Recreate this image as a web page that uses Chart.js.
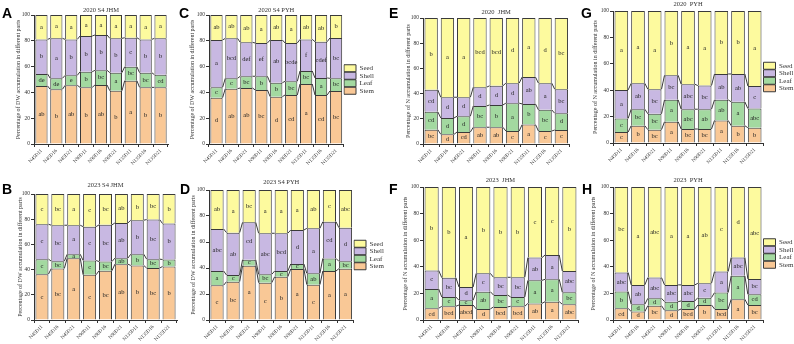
<!DOCTYPE html>
<html>
<head>
<meta charset="utf-8">
<script src="https://cdn.jsdelivr.net/npm/chart.js@4.4.1/dist/chart.umd.min.js"></script>
<style>
  html, body { margin: 0; padding: 0; background: #fff; }
  #fig { position: relative; width: 794px; height: 344px; overflow: hidden; }
  #fig canvas { position: absolute; }
  .tag { position: absolute; font: bold 14px "Liberation Sans", Arial, sans-serif; line-height: 1; color: #000; }
</style>
</head>
<body>
<div id="fig">
  <canvas id="cA" width="183" height="170" style="left:0px;top:0px"></canvas>
  <canvas id="cC" width="215" height="170" style="left:183px;top:0px"></canvas>
  <canvas id="cE" width="190" height="170" style="left:400px;top:0px"></canvas>
  <canvas id="cG" width="222" height="170" style="left:585px;top:0px"></canvas>
  <canvas id="cB" width="183" height="174" style="left:0px;top:170px"></canvas>
  <canvas id="cD" width="215" height="174" style="left:183px;top:170px"></canvas>
  <canvas id="cF" width="190" height="174" style="left:400px;top:170px"></canvas>
  <canvas id="cH" width="222" height="174" style="left:585px;top:170px"></canvas>
  <div class="tag" style="left:2px;top:6px">A</div>
  <div class="tag" style="left:179px;top:6px">C</div>
  <div class="tag" style="left:389px;top:6px">E</div>
  <div class="tag" style="left:581px;top:6px">G</div>
  <div class="tag" style="left:2px;top:182px">B</div>
  <div class="tag" style="left:180px;top:182px">D</div>
  <div class="tag" style="left:389px;top:182px">F</div>
  <div class="tag" style="left:582px;top:182px">H</div>
</div>
<script>
const categories = ["N45D11", "N45D16", "N45D21", "N90D11", "N90D16", "N90D21", "N135D11", "N135D16", "N135D21"];
const partNames = ["Stem", "Leaf", "Shell", "Seed"];
const partColors = ["#F9C896", "#A3D9A0", "#C8B8E2", "#FDFA9E"];

// A: 2020 S4 JHM (DW)
const A_stem  = [45.0, 42.4, 45.5, 43.9, 45.7, 41.3, 49.1, 43.9, 43.9];
const A_leaf  = [9.3, 8.5, 7.7, 12.1, 11.4, 14.0, 10.8, 11.4, 9.8];
const A_shell = [26.8, 31.0, 27.9, 27.7, 27.4, 26.6, 22.5, 25.8, 28.2];
const A_seed  = [18.9, 18.1, 18.9, 16.3, 15.5, 18.1, 17.6, 18.9, 18.1];
const A_stemSig  = ["ab", "b", "ab", "b", "ab", "b", "a", "b", "b"];
const A_leafSig  = ["de", "de", "e", "b", "bc", "a", "bc", "bc", "cd"];
const A_shellSig = ["b", "a", "b", "b", "b", "b", "c", "b", "b"];
const A_seedSig  = ["a", "a", "a", "a", "a", "a", "a", "a", "a"];

// C: 2020 S4 PYH (DW)
const C_stem  = [35.9, 42.9, 43.4, 41.9, 36.7, 38.0, 46.5, 38.0, 41.1];
const C_leaf  = [8.0, 8.0, 9.1, 10.6, 10.8, 10.6, 10.1, 13.2, 9.8];
const C_shell = [36.7, 31.0, 26.3, 25.8, 33.1, 29.7, 24.5, 28.1, 31.3];
const C_seed  = [19.4, 18.1, 21.2, 21.7, 19.4, 21.7, 18.9, 20.7, 17.8];
const C_stemSig  = ["d", "ab", "ab", "bc", "d", "cd", "a", "cd", "bc"];
const C_leafSig  = ["c", "c", "bc", "b", "b", "bc", "bc", "a", "bc"];
const C_shellSig = ["a", "bcd", "def", "ef", "ab", "bcde", "f", "cdef", "bc"];
const C_seedSig  = ["ab", "ab", "ab", "a", "ab", "a", "ab", "ab", "b"];

// B: 2023 S4 JHM (DW)
const B_stem  = [36.4, 40.9, 49.1, 35.9, 39.1, 44.3, 43.3, 41.2, 42.5];
const B_leaf  = [11.9, 5.8, 3.1, 11.3, 7.3, 4.8, 8.9, 7.1, 5.5];
const B_shell = [27.7, 28.5, 23.0, 26.9, 29.1, 27.9, 27.0, 31.4, 28.5];
const B_seed  = [24.0, 24.8, 24.8, 25.9, 24.5, 23.0, 20.8, 20.3, 23.5];
const B_stemSig  = ["c", "bc", "a", "c", "bc", "ab", "b", "bc", "b"];
const B_leafSig  = ["c", "bc", "a", "c", "bc", "ab", "b", "bc", "b"];
const B_shellSig = ["c", "bc", "a", "c", "bc", "ab", "b", "bc", "b"];
const B_seedSig  = ["c", "bc", "a", "c", "bc", "ab", "b", "bc", "b"];

// D: 2023 S4 PYH (DW)
const D_stem  = [26.7, 29.5, 41.8, 28.7, 33.3, 39.2, 27.2, 37.7, 39.5];
const D_leaf  = [11.0, 5.1, 4.6, 6.4, 4.4, 3.9, 8.7, 9.7, 5.6];
const D_shell = [32.3, 32.6, 28.7, 31.6, 29.0, 26.1, 34.6, 28.2, 25.9];
const D_seed  = [30.0, 32.8, 24.9, 33.3, 33.3, 30.8, 29.5, 24.4, 29.0];
const D_stemSig  = ["c", "bc", "a", "c", "b", "a", "c", "a", "a"];
const D_leafSig  = ["a", "c", "c", "bc", "c", "c", "ab", "a", "bc"];
const D_shellSig = ["abc", "ab", "cd", "abc", "bcd", "d", "a", "cd", "d"];
const D_seedSig  = ["ab", "a", "bc", "a", "a", "a", "ab", "c", "abc"];

// E: 2020 JHM (N)
const E_stem  = [11.4, 7.7, 9.5, 13.3, 13.3, 10.3, 15.4, 10.3, 11.1];
const E_leaf  = [14.1, 13.0, 12.5, 16.9, 17.7, 22.1, 16.4, 16.8, 13.3];
const E_shell = [17.5, 16.4, 15.1, 14.9, 15.2, 15.9, 21.3, 21.2, 19.1];
const E_seed  = [57.0, 62.9, 62.9, 54.9, 53.8, 51.7, 46.9, 51.7, 56.5];
const E_stemSig  = ["bc", "d", "cd", "ab", "ab", "c", "a", "c", "c"];
const E_leafSig  = ["cd", "d", "d", "bc", "b", "a", "b", "bc", "d"];
const E_shellSig = ["cd", "d", "d", "d", "d", "d", "ab", "a", "bc"];
const E_seedSig  = ["b", "a", "a", "bcd", "bcd", "d", "a", "d", "bc"];

// G: 2020 PYH (N)
const G_stem  = [8.3, 13.1, 10.1, 16.1, 10.6, 10.6, 17.1, 13.1, 11.6];
const G_leaf  = [10.3, 12.5, 12.0, 16.6, 15.0, 15.0, 15.6, 18.1, 14.5];
const G_shell = [21.6, 19.6, 18.6, 18.6, 18.9, 17.9, 19.6, 21.1, 17.1];
const G_seed  = [59.8, 54.8, 59.3, 48.7, 55.5, 56.5, 47.7, 47.7, 56.8];
const G_stemSig  = ["c", "b", "bc", "a", "bc", "bc", "a", "b", "b"];
const G_leafSig  = ["c", "bc", "bc", "a", "abc", "ab", "ab", "a", "abc"];
const G_shellSig = ["a", "ab", "bc", "bc", "abc", "bc", "ab", "ab", "c"];
const G_seedSig  = ["a", "a", "a", "b", "a", "a", "b", "b", "a"];

// F: 2023 JHM (N)
const F_stem  = [8.8, 10.3, 11.3, 8.3, 9.8, 10.3, 12.5, 13.8, 11.8];
const F_leaf  = [14.5, 7.0, 3.5, 13.0, 9.0, 7.0, 17.3, 16.8, 9.0];
const F_shell = [14.0, 14.5, 10.0, 13.8, 13.3, 14.8, 17.1, 18.3, 16.0];
const F_seed  = [62.7, 68.2, 75.2, 64.9, 67.9, 67.9, 53.1, 51.1, 63.2];
const F_stemSig  = ["cd", "bcd", "abcd", "d", "bcd", "bcd", "ab", "a", "abc"];
const F_leafSig  = ["a", "c", "c", "ab", "bc", "c", "a", "a", "bc"];
const F_shellSig = ["c", "bc", "d", "c", "bc", "bc", "ab", "a", "abc"];
const F_seedSig  = ["b", "b", "a", "b", "b", "b", "c", "c", "b"];

// H: 2023 PYH (N)
const H_stem  = [8.8, 6.3, 10.8, 7.3, 8.3, 11.3, 8.3, 15.6, 11.3];
const H_leaf  = [12.6, 5.5, 5.5, 6.5, 6.0, 5.5, 12.3, 17.6, 8.0];
const H_shell = [14.3, 14.6, 15.6, 12.6, 12.1, 10.8, 15.8, 13.8, 11.6];
const H_seed  = [64.3, 73.6, 68.1, 73.6, 73.6, 72.4, 63.6, 53.0, 69.1];
const H_stemSig  = ["cd", "d", "bc", "d", "bcd", "b", "bcd", "a", "bc"];
const H_leafSig  = ["b", "d", "d", "d", "d", "d", "bc", "a", "cd"];
const H_shellSig = ["abc", "ab", "abc", "abc", "abc", "c", "a", "abc", "bc"];
const H_seedSig  = ["bc", "a", "abc", "a", "a", "ab", "c", "d", "abc"];

const serif = "'Liberation Serif', 'Times New Roman', serif";
const ink = "#333333";
const LEGEND_W = 40.4;   // approx width the legend box takes

// lines joining the segment boundaries of neighbouring bars
const linkLines = {
    id: "linkLines",
    afterDatasetsDraw(chart) {
        const ctx = chart.ctx;
        ctx.save();
        ctx.strokeStyle = "#3a3a3a";
        ctx.lineWidth = 1;
        for (let i = 0; i < chart.data.datasets.length - 1; i++) {
            const bars = chart.getDatasetMeta(i).data;
            for (let j = 0; j < bars.length - 1; j++) {
                const a = bars[j].getProps(["x", "y", "width"], true);
                const b = bars[j + 1].getProps(["x", "y", "width"], true);
                ctx.beginPath();
                ctx.moveTo(a.x + a.width / 2, a.y);
                ctx.lineTo(b.x - b.width / 2, b.y);
                ctx.stroke();
            }
        }
        ctx.restore();
    }
};

// significance letters in the middle of each segment
const sigLabels = {
    id: "sigLabels",
    afterDatasetsDraw(chart) {
        const ctx = chart.ctx;
        ctx.save();
        ctx.font = "6.5px " + serif;
        ctx.fillStyle = "#222";
        ctx.textAlign = "center";
        ctx.textBaseline = "middle";
        chart.data.datasets.forEach((ds, i) => {
            chart.getDatasetMeta(i).data.forEach((bar, j) => {
                const p = bar.getProps(["x", "y", "base"], true);
                ctx.fillText(ds.sig[j], p.x, (p.y + p.base) / 2);
            });
        });
        ctx.restore();
    }
};

function makePanel(id, box, area, title, titleY, yTitle, yTitleX, values, sigs, legend) {
    const canvas = document.getElementById(id);
    const cw = canvas.width, ch = canvas.height;
    const L = area.l - box.left;
    const R = area.r - box.left;
    const T = area.t - box.top;
    const B = area.b - box.top;
    const tPadTop = titleY - box.top - 3.9;
    const tPadBottom = T - tPadTop - 7.8;
    const padRight = legend ? cw - R - LEGEND_W : cw - R;

    const datasets = values.map((v, i) => ({
        label: partNames[i],
        data: v,
        sig: sigs[i],
        backgroundColor: partColors[i],
        borderColor: "#3a3a3a",
        borderWidth: 1,
        barPercentage: 0.82,
        categoryPercentage: 1
    }));

    return new Chart(canvas, {
        type: "bar",
        data: { labels: categories, datasets: datasets },
        options: {
            responsive: false,
            animation: false,
            layout: { padding: { left: 0, top: 0, bottom: 0, right: padRight } },
            plugins: {
                title: {
                    display: true,
                    text: title,
                    fullSize: false,
                    color: ink,
                    font: { family: serif, size: 6.5, weight: "normal", lineHeight: 1.2 },
                    padding: { top: tPadTop, bottom: tPadBottom }
                },
                legend: {
                    display: legend,
                    position: "right",
                    fullSize: false,
                    reverse: true,
                    labels: {
                        boxWidth: 12,
                        boxHeight: 7,
                        padding: 0.5,
                        color: ink,
                        font: { family: serif, size: 7 }
                    }
                },
                tooltip: { enabled: false }
            },
            scales: {
                x: {
                    stacked: true,
                    grid: { drawOnChartArea: false, drawTicks: true, tickLength: 3, color: ink },
                    border: { display: true, color: ink, width: 1 },
                    ticks: {
                        autoSkip: false,
                        minRotation: 45,
                        maxRotation: 45,
                        padding: 1,
                        color: ink,
                        font: { family: serif, size: 5 }
                    },
                    afterFit(scale) { scale.height = ch - B; }
                },
                y: {
                    stacked: true,
                    min: 0,
                    max: 100,
                    grid: { drawOnChartArea: false, drawTicks: true, tickLength: 3, color: ink },
                    border: { display: true, color: ink, width: 1 },
                    ticks: {
                        stepSize: 20,
                        padding: 1,
                        color: ink,
                        font: { family: serif, size: 5.5 }
                    },
                    title: {
                        display: true,
                        text: yTitle,
                        color: ink,
                        font: { family: serif, size: 6, lineHeight: 1.2 },
                        padding: { top: yTitleX - box.left - 3.6, bottom: 0 }
                    },
                    afterFit(scale) { scale.width = L; }
                }
            }
        },
        plugins: [linkLines, sigLabels]
    });
}

const dwTitle = "Percentage of DW accumulation in different parts";
const nTitle = "Percentage of N accumulation in different parts";

makePanel("cA", { left: 0, top: 0 }, { l: 34, r: 168, t: 15, b: 144 }, "2020 S4 JHM", 10, dwTitle, 18,
    [A_stem, A_leaf, A_shell, A_seed], [A_stemSig, A_leafSig, A_shellSig, A_seedSig], false);
makePanel("cC", { left: 183, top: 0 }, { l: 209, r: 343.5, t: 15, b: 144 }, "2020 S4 PYH", 10, dwTitle, 192,
    [C_stem, C_leaf, C_shell, C_seed], [C_stemSig, C_leafSig, C_shellSig, C_seedSig], true);
makePanel("cE", { left: 400, top: 0 }, { l: 423, r: 569.5, t: 18, b: 144 }, "2020  JHM", 12, nTitle, 408,
    [E_stem, E_leaf, E_shell, E_seed], [E_stemSig, E_leafSig, E_shellSig, E_seedSig], false);
makePanel("cG", { left: 585, top: 0 }, { l: 613, r: 763, t: 11, b: 143 }, "2020  PYH", 4.5, nTitle, 595,
    [G_stem, G_leaf, G_shell, G_seed], [G_stemSig, G_leafSig, G_shellSig, G_seedSig], true);

makePanel("cB", { left: 0, top: 170 }, { l: 34, r: 177, t: 194, b: 320 }, "2023 S4 JHM", 185, dwTitle, 20,
    [B_stem, B_leaf, B_shell, B_seed], [B_stemSig, B_leafSig, B_shellSig, B_seedSig], false);
makePanel("cD", { left: 183, top: 170 }, { l: 209, r: 353.5, t: 190, b: 320 }, "2023 S4 PYH", 182, dwTitle, 193,
    [D_stem, D_leaf, D_shell, D_seed], [D_stemSig, D_leafSig, D_shellSig, D_seedSig], true);
makePanel("cF", { left: 400, top: 170 }, { l: 423, r: 578, t: 187, b: 320 }, "2023  JHM", 180, nTitle, 405,
    [F_stem, F_leaf, F_shell, F_seed], [F_stemSig, F_leafSig, F_shellSig, F_seedSig], false);
makePanel("cH", { left: 585, top: 170 }, { l: 613, r: 763, t: 187, b: 320 }, "2023  PYH", 180, nTitle, 593,
    [H_stem, H_leaf, H_shell, H_seed], [H_stemSig, H_leafSig, H_shellSig, H_seedSig], true);
</script>
</body>
</html>
